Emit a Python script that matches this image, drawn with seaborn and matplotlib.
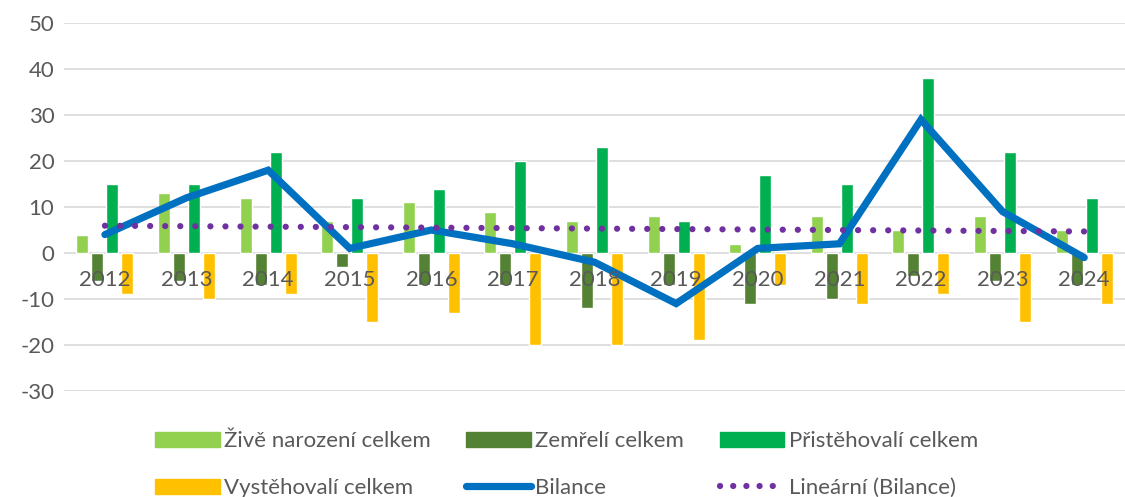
import numpy as np
import pandas as pd
import matplotlib
matplotlib.use('Agg')
import matplotlib.pyplot as plt
import seaborn as sns

# values
years = ['2012', '2013', '2014', '2015', '2016', '2017', '2018',
         '2019', '2020', '2021', '2022', '2023', '2024']
born = [4, 13, 12, 7, 11, 9, 7, 8, 2, 8, 5, 8, 5]
died = [-6, -6, -7, -3, -7, -7, -12, -7, -11, -10, -5, -6, -7]
immigrated = [15, 15, 22, 12, 14, 20, 23, 7, 17, 15, 38, 22, 12]
emigrated = [-9, -10, -9, -15, -13, -20, -20, -19, -7, -11, -9, -15, -11]
balance = [4, 12, 18, 1, 5, 2, -2, -11, 1, 2, 29, 9, -1]

series_names = ['Živě narození celkem', 'Zemřelí celkem',
                'Přistěhovalí celkem', 'Vystěhovalí celkem']
bar_colors = ['#92D050', '#548235', '#00B050', '#FFC000']

sns.set_theme(style='white')
plt.rcParams['font.family'] = ['Lato', 'DejaVu Sans']
plt.rcParams['axes.unicode_minus'] = False

df = pd.DataFrame({
    'year': years * 4,
    'series': sum([[n] * len(years) for n in series_names], []),
    'value': born + died + immigrated + emigrated,
})

fig = plt.figure(figsize=(11.25, 4.97), dpi=100)
ax = fig.add_axes([0.057, 0.2133, 0.943, 0.7404])

sns.barplot(data=df, x='year', y='value', hue='series', order=years,
            hue_order=series_names, palette=bar_colors, saturation=1,
            width=0.735, gap=0.2, ax=ax, legend=False)

pos = np.arange(len(years))
sns.lineplot(x=pos, y=balance, color='#0070C0', linewidth=5.2, ax=ax,
             solid_capstyle='round', solid_joinstyle='miter')

# linear trend of the balance, like Excel's "Lineární" trendline
k, q = np.polyfit(pos, balance, 1)
trend = k * pos + q
ax.plot(pos, trend, color='#7030A0', linewidth=4.5,
        linestyle=(0, (0.01, 2.4)), dash_capstyle='round')

ax.set_ylim(-30, 50)
ax.set_xlim(-0.5, len(years) - 0.5)
ax.set_yticks(range(-30, 51, 10))
ax.grid(axis='y', color='#D9D9D9', linewidth=1.2)
ax.set_axisbelow(True)
ax.xaxis.set_zorder(5)  # year labels sit on top of the bars
for s in ax.spines.values():
    s.set_visible(False)
ax.spines['bottom'].set_position(('data', 0))
ax.set_xlabel('')
ax.set_ylabel('')
ax.tick_params(axis='x', length=0, pad=12, labelsize=16, labelcolor='#595959')
ax.tick_params(axis='y', length=0, pad=7, labelsize=16, labelcolor='#595959')

# legend, filled column-wise so rows read like the original
h_bars = [plt.Rectangle((0, 0), 1, 1, color=c) for c in bar_colors]
h_bal = plt.Line2D([], [], color='#0070C0', linewidth=5.2, solid_capstyle='round')
h_tr = plt.Line2D([], [], color='#7030A0', linewidth=4.5,
                  linestyle=(0, (0.01, 2.1)), dash_capstyle='round')
handles = [h_bars[0], h_bars[3], h_bars[1], h_bal, h_bars[2], h_tr]
labels = [series_names[0], series_names[3], series_names[1], 'Bilance',
          series_names[2], 'Lineární (Bilance)']
fig.legend(handles, labels, ncol=3, loc='upper left',
           bbox_to_anchor=(0.138, 0.132), frameon=False, fontsize=16,
           labelcolor='#595959', handlelength=2.9, handleheight=0.68,
           handletextpad=0.2, columnspacing=1.6, labelspacing=1.2,
           borderpad=0, borderaxespad=0)

fig.savefig('out.png', dpi=100)
